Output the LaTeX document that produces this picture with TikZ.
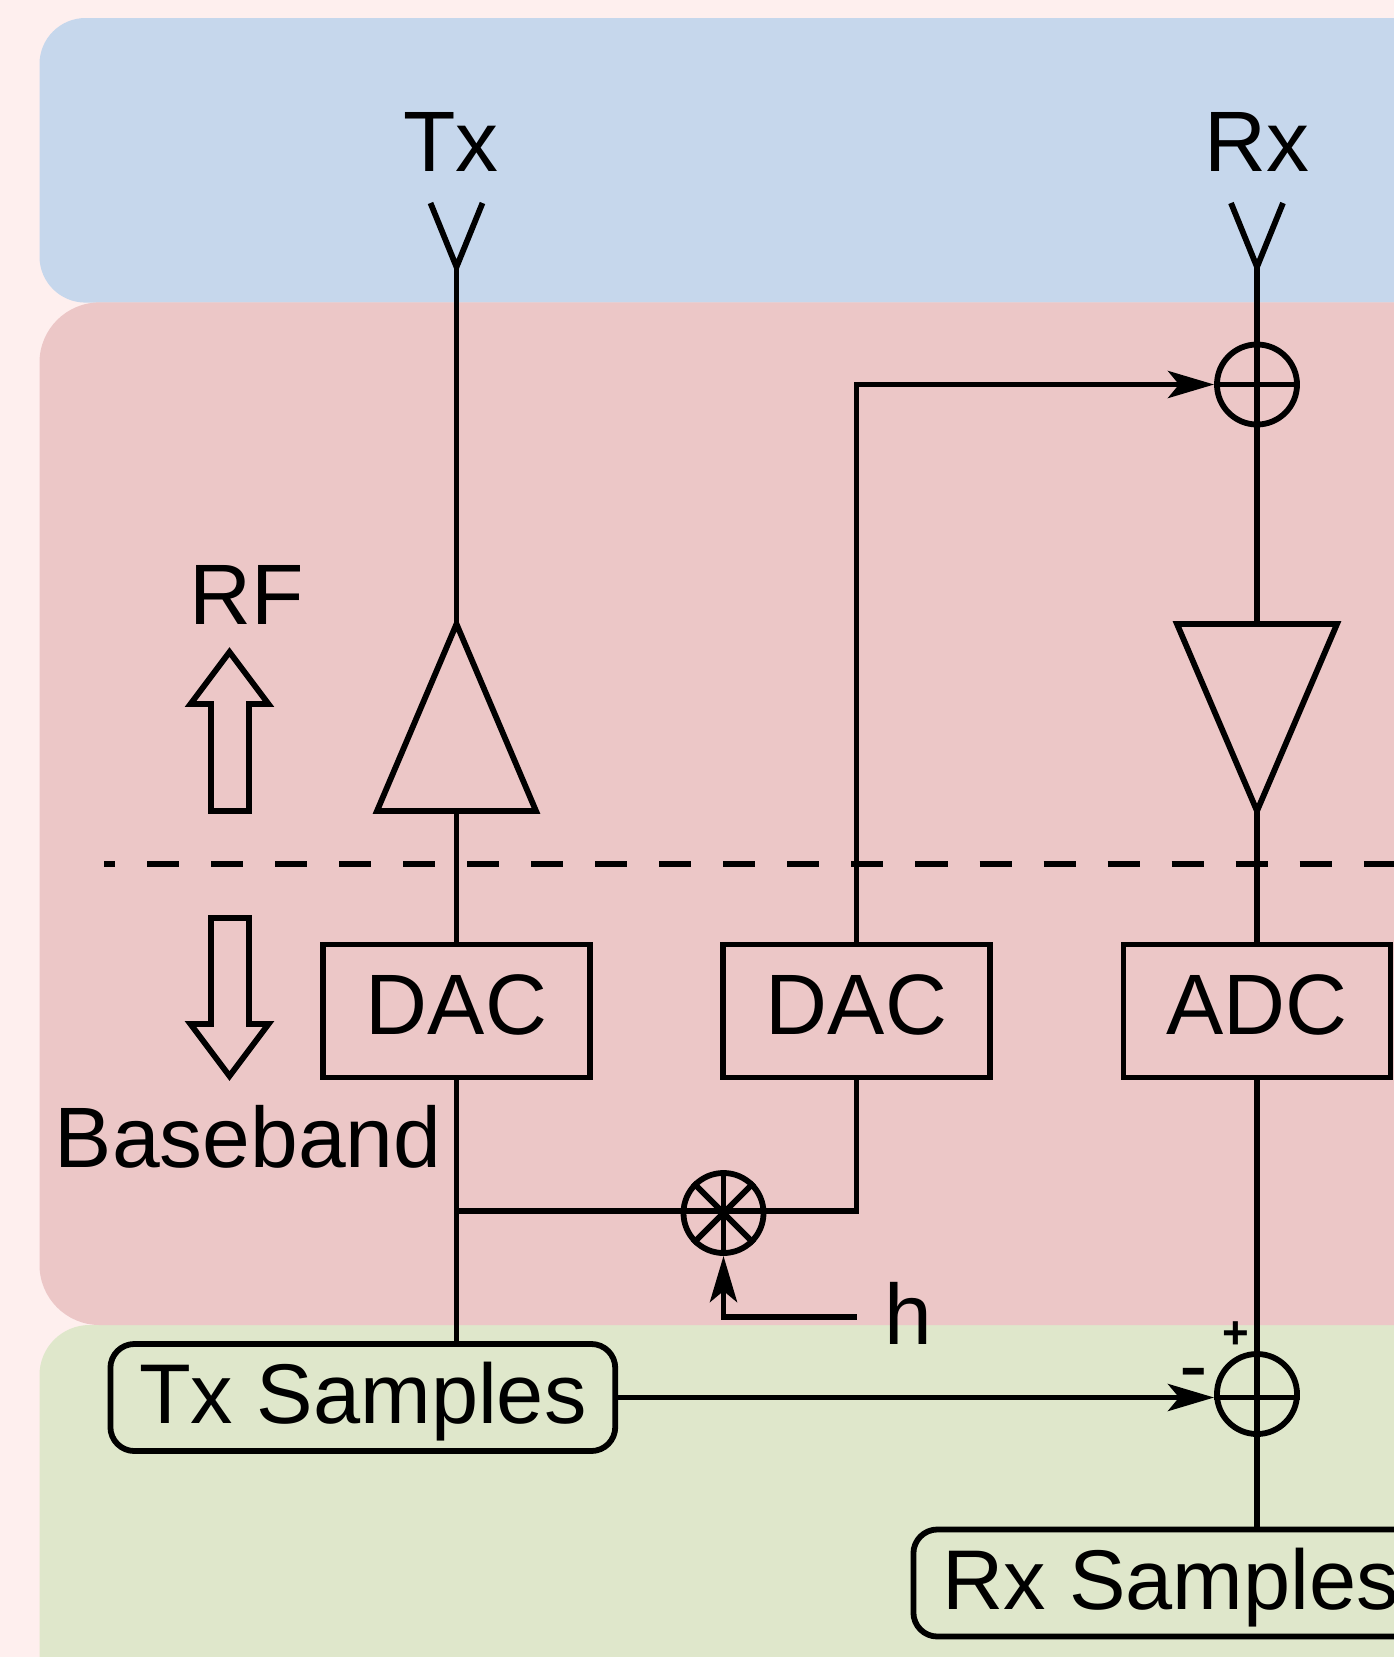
\documentclass[tikz,border=0pt]{standalone}
\usepackage{fontspec}
\setmainfont{Liberation Sans}
\usetikzlibrary{arrows.meta,calc}
\definecolor{fondpage}{HTML}{FEEFEE}
\definecolor{bandeair}{HTML}{C6D7EC}
\definecolor{bandeanalog}{HTML}{ECC7C7}
\definecolor{bandesample}{HTML}{DFE7CB}
\tikzset{
	ligne/.style={line width=0.058cm,line join=miter},
	fleche/.style={ligne,-{Stealth[length=0.46cm,width=0.27cm,inset=0.11cm]}},
	texte/.style={font=\fontsize{24.4}{28}\selectfont,inner sep=0pt,anchor=base},
	convbox/.style={draw,ligne,font=\fontsize{24.4}{28}\selectfont,inner sep=0pt,minimum width=2.67cm,minimum height=1.33cm,text height=0.6cm,text depth=0.13cm},
	samplebox/.style={draw,ligne,font=\fontsize{24.1}{28}\selectfont,inner xsep=0.287cm,inner ysep=0pt,rounded corners=0.24cm,minimum height=1.07cm,text height=0.6cm,text depth=0.08cm,anchor=west},
	rond/.style={draw,ligne,circle,inner sep=0pt,minimum size=0.8cm}
}
\begin{document}
\begin{tikzpicture}[x=0.01cm,y=-0.01cm]
	% Fond
	\clip (0,0) rectangle (1394,1657);
	\fill [fondpage] (0,0) rectangle (1394,1657);
	\fill [bandeair,rounded corners=0.46cm] (39.5,18) rectangle (1600,302.6);
	\fill [bandesample,rounded corners=0.5cm] (39.5,1325) rectangle (1600,1800);
	\fill [bandeanalog,rounded corners=0.6cm] (39.5,302.4) rectangle (1600,1325);
	% Blocs
	\node [convbox] (dacTx) at (456.5,1011) {DAC};
	\node [convbox] (dacRef) at (856.5,1011) {DAC};
	\node [convbox] (adcRx) at (1257,1011) {ADC};
	\node [samplebox] (samplesTx) at (107.5,1397.5) {Tx Samples};
	\node [samplebox] (samplesRx) at (910.5,1583) {Rx Samples};
	\node [rond] (addRf) at (1257,384.5) {};
	\node [rond] (addBb) at (1257,1394) {};
	\node [rond] (mult) at (723.5,1213) {};
	% Textes
	\node [texte] (labelTx) at (451,171) {Tx};
	\node [texte] (labelRx) at (1257,171) {Rx};
	\node [texte] (labelRf) at (247,624.5) {RF};
	\node [texte] (labelBb) at (248,1167) {Baseband};
	\node [texte,anchor=base west] (labelH) at (884,1344) {h};
	\node [inner sep=0pt,font=\fontsize{13}{15}\bfseries\selectfont] (plus) at (1236,1335) {+};
	\node [inner sep=0pt,font=\fontsize{24.4}{28}\selectfont] (moins) at (1194,1381) {-};
	% Antennes
	\coordinate (antTx) at (456.5,267);
	\coordinate (antRx) at (1257,267);
	\draw [ligne] (430.5,203) -- (antTx) -- (482.5,203);
	\draw [ligne] (1231,203) -- (antRx) -- (1283,203);
	% Amplis
	\coordinate (ampTxHaut) at (456.5,624);
	\coordinate (ampTxBas) at (456.5,811);
	\coordinate (ampRxHaut) at (1257,624);
	\coordinate (ampRxBas) at (1257,811);
	\draw [ligne] (ampTxHaut) -- (536,811) -- (377,811) -- cycle;
	\draw [ligne] (ampRxBas) -- (1337,624) -- (1177,624) -- cycle;
	% Flèches creuses
	\draw [ligne] (229.5,652) -- (268.5,704) -- (249,704) -- (249,811) -- (211,811) -- (211,704) -- (190.5,704) -- cycle;
	\draw [ligne] (229.5,1076) -- (268.5,1024) -- (249,1024) -- (249,918) -- (211,918) -- (211,1024) -- (190.5,1024) -- cycle;
	% Liaisons
	\draw [ligne] (antTx) -- (ampTxHaut);
	\draw [ligne] (ampTxBas) -- (dacTx.north);
	\draw [ligne] (dacTx.south) -- (dacTx.south |- samplesTx.north);
	\draw [ligne] (antRx) -- (addRf.north) -- (addRf.south) -- (ampRxHaut);
	\draw [ligne] (addRf.west) -- (addRf.east);
	\draw [ligne] (ampRxBas) -- (adcRx.north);
	\draw [ligne] (adcRx.south) -- (addBb.north) -- (addBb.south) -- (addBb.south |- samplesRx.north);
	\draw [fleche] (dacRef.north) |- (addRf.west);
	\draw [fleche] (samplesTx.east) -- (samplesTx.east -| addBb.west);
	\draw [ligne] (samplesTx.east -| addBb.west) -- (samplesTx.east -| addBb.east);
	% Multiplieur
	\coordinate (tapTx) at (456.5,1211);
	\coordinate (tapRef) at (856.5,1211);
	\coordinate (sourceH) at (856.5,1317);
	\draw [ligne] (tapTx) -- (tapRef) -- (dacRef.south);
	\draw [ligne] (mult.north) -- (mult.south);
	\draw [ligne] (mult.45) -- (mult.225);
	\draw [ligne] (mult.135) -- (mult.315);
	\draw [fleche] (sourceH) -| (mult.south);
	% Séparation
	\draw [ligne,dash pattern=on 0.32cm off 0.32cm,dash phase=0.21cm] (104,864) -- (1394,864);
\end{tikzpicture}
\end{document}
